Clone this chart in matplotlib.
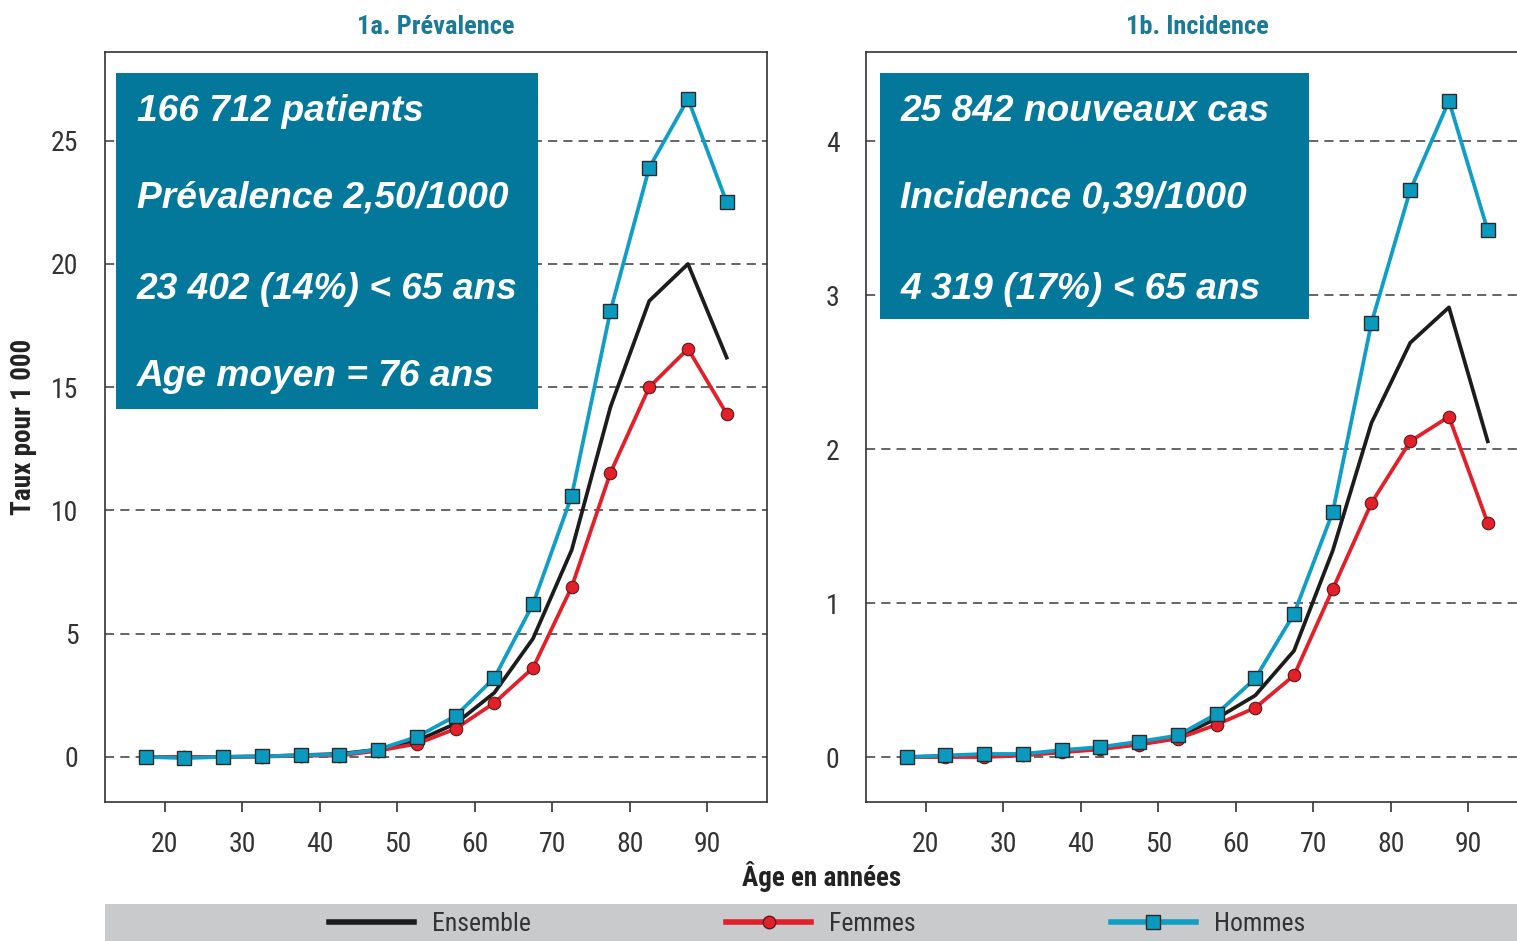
import matplotlib
matplotlib.use('Agg')
import matplotlib.pyplot as plt
from matplotlib.patches import Rectangle
from matplotlib.lines import Line2D

# age class midpoints
ages = [17.5, 22.5, 27.5, 32.5, 37.5, 42.5, 47.5, 52.5,
        57.5, 62.5, 67.5, 72.5, 77.5, 82.5, 87.5, 92.5]

# 1a. prevalence (per 1000)
prev_ensemble = [0.0, 0.0, 0.0, 0.02, 0.07, 0.12, 0.3, 0.65,
                 1.35, 2.6, 4.8, 8.4, 14.2, 18.5, 20.0, 16.2]
prev_femmes = [0.0, 0.0, 0.0, 0.01, 0.05, 0.05, 0.25, 0.53,
               1.14, 2.19, 3.61, 6.9, 11.53, 15.0, 16.56, 13.92]
prev_hommes = [0.0, -0.05, 0.0, 0.02, 0.07, 0.09, 0.3, 0.81,
               1.66, 3.2, 6.2, 10.6, 18.1, 23.9, 26.7, 22.5]

# 1b. incidence (per 1000)
inc_ensemble = [0.0, 0.005, 0.01, 0.015, 0.04, 0.055, 0.09, 0.13,
                0.25, 0.4, 0.69, 1.34, 2.17, 2.69, 2.92, 2.05]
inc_femmes = [0.0, 0.0, 0.0, 0.01, 0.03, 0.05, 0.08, 0.12,
              0.21, 0.32, 0.53, 1.09, 1.65, 2.05, 2.21, 1.52]
inc_hommes = [0.0, 0.01, 0.02, 0.02, 0.045, 0.065, 0.1, 0.14,
              0.28, 0.51, 0.93, 1.59, 2.82, 3.68, 4.26, 3.42]

x_ticks = [20, 30, 40, 50, 60, 70, 80, 90]
prev_yticks = [0, 5, 10, 15, 20, 25]
inc_yticks = [0, 1, 2, 3, 4]

prev_lines = ['166 712 patients', 'Prévalence 2,50/1000',
              '23 402 (14%) < 65 ans', 'Age moyen = 76 ans']
inc_lines = ['25 842 nouveaux cas', 'Incidence 0,39/1000',
             '4 319 (17%) < 65 ans']

NARROW = ['Roboto Condensed', 'DejaVu Sans']
BOX_FONT = ['Liberation Sans', 'DejaVu Sans']

C_ENS = '#1c1c1c'
C_FEM = '#e3202a'
C_HOM = '#0e9ec6'
C_BOX = '#03789b'
C_TITLE = '#1b7a96'
C_GRID = '#3a3a3a'

plt.rcParams['font.family'] = NARROW
plt.rcParams['font.stretch'] = 'condensed'

fig = plt.figure(figsize=(15.17, 9.41), dpi=100)

W, H = 1517, 941


def make_axes(left_px, title, ylim, yticks):
    ax = fig.add_axes([left_px / W, 1 - 802 / H, 662 / W, 750 / H])
    ax.set_xlim(12.26, 97.7)
    ax.set_ylim(*ylim)
    ax.set_xticks(x_ticks)
    ax.set_yticks(yticks)
    ax.tick_params(axis='x', length=7, width=1.2, color='#333333', pad=14,
                   labelsize=20, labelcolor='#333333')
    ax.tick_params(axis='y', length=0, pad=19, labelsize=20, labelcolor='#333333')
    for s in ax.spines.values():
        s.set_color('#333333')
        s.set_linewidth(1.2)
    for yv in yticks:
        ax.axhline(yv, color=C_GRID, lw=1.1, ls=(0, (6, 4)), zorder=1)
    ax.set_title(title, color=C_TITLE, fontsize=19, fontweight='bold', pad=13)
    return ax


def draw_series(ax, ens, fem, hom):
    ax.plot(ages, ens, color=C_ENS, lw=2.7, zorder=3)
    ax.plot(ages, fem, color=C_FEM, lw=2.7, marker='o', ms=9,
            mfc=C_FEM, mec='#5a1a1a', mew=0.8, zorder=4)
    ax.plot(ages, hom, color=C_HOM, lw=2.7, marker='s', ms=9.5,
            mfc='#0a9ac0', mec='#2a2a2a', mew=1.0, zorder=5)


def draw_box(ax, x0, x1, y0, y1, lines):
    ax.add_patch(Rectangle((x0, y0), x1 - x0, y1 - y0, transform=ax.transAxes,
                           facecolor=C_BOX, edgecolor='none', zorder=6))
    ys = [0.921, 0.805, 0.683, 0.567]
    for txt, yy in zip(lines, ys):
        ax.text(x0 + 0.031, yy, txt, transform=ax.transAxes, color='white',
                fontsize=26.7, fontweight='bold', fontstyle='italic',
                family=BOX_FONT, fontstretch='normal',
                va='center', ha='left', zorder=7)


ax1 = make_axes(105, '1a. Prévalence', (-1.83, 28.6), prev_yticks)
draw_series(ax1, prev_ensemble, prev_femmes, prev_hommes)
draw_box(ax1, 0.0166, 0.654, 0.524, 0.972, prev_lines)
ax1.set_ylabel('Taux pour 1 000', fontsize=19.5, fontweight='bold',
               color='#222222', labelpad=10)

ax2 = make_axes(866, '1b. Incidence', (-0.292, 4.578), inc_yticks)
draw_series(ax2, inc_ensemble, inc_femmes, inc_hommes)
draw_box(ax2, 0.0211, 0.669, 0.644, 0.972, inc_lines)

fig.text(822 / W, 1 - 877 / H, 'Âge en années', ha='center', va='center',
         fontsize=19.5, fontweight='bold', color='#222222')

# grey legend band
fig.patches.append(Rectangle((105 / W, 0), 1 - 105 / W, 37 / H,
                             transform=fig.transFigure, facecolor='#c9cacc',
                             edgecolor='none', zorder=0))
handles = [
    Line2D([], [], color=C_ENS, lw=4),
    Line2D([], [], color=C_FEM, lw=4, marker='o', ms=9, mfc=C_FEM, mec='#5a1a1a'),
    Line2D([], [], color=C_HOM, lw=4, marker='s', ms=10, mfc='#0a9ac0', mec='#2a2a2a'),
]
fig.legend(handles, ['Ensemble', 'Femmes', 'Hommes'], loc='center',
           bbox_to_anchor=(817 / W, 17 / H), ncol=3, frameon=False,
           fontsize=18.5, handlelength=3.3, columnspacing=7.6, handletextpad=0.7,
           labelcolor='#333333')

fig.savefig('out.png', dpi=100)
